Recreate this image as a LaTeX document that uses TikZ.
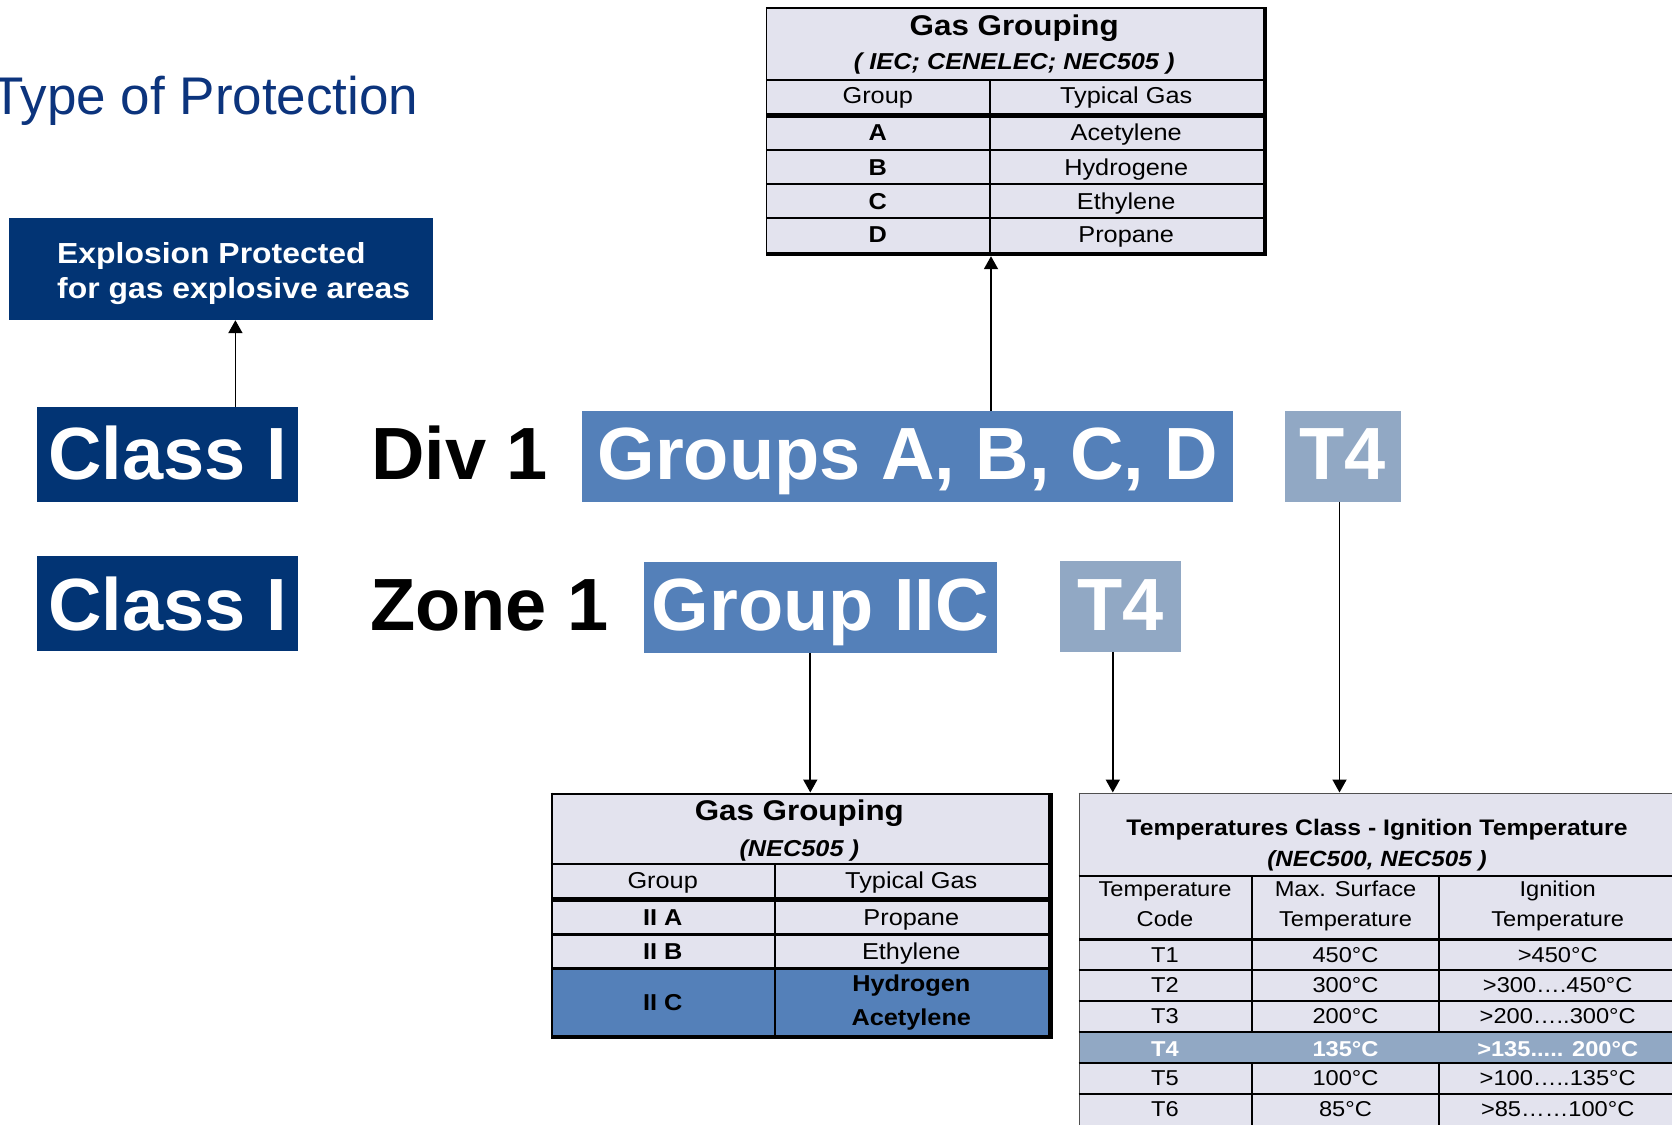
\documentclass[tikz,border=0pt]{standalone}
\usepackage{fontspec}
\setmainfont{Liberation Sans}
\newfontfamily\tabfont[FakeStretch=1.1]{Liberation Sans}
\usetikzlibrary{arrows.meta}
\definecolor{navy}{RGB}{2,52,116}
\definecolor{midblue}{RGB}{84,128,185}
\definecolor{greyblue}{RGB}{145,168,196}
\definecolor{lav}{RGB}{227,227,238}
\definecolor{titleblue}{RGB}{12,52,125}
\definecolor{edgegrey}{RGB}{80,80,80}
\begin{document}
\begin{tikzpicture}[x=1pt,y=-1pt,
  bigfont/.style={font=\fontsize{74}{80}\selectfont\bfseries},
  bigbox/.style={bigfont, text=white, inner sep=0pt, text depth=0pt, anchor=center},
  plain/.style={bigfont, anchor=base west, inner sep=0pt},
  arr/.style={draw=black, line width=1.8pt, -{Triangle[length=13pt,width=14pt]}},
  frame/.style={draw=none, inner sep=0pt},
  tx/.style={anchor=base, inner sep=0pt, font=\tabfont\fontsize{23}{27}\selectfont},
  txb/.style={tx, font=\tabfont\fontsize{23}{27}\selectfont\bfseries},
  ttl/.style={tx, font=\tabfont\fontsize{28.5}{32}\selectfont\bfseries},
  subt/.style={tx, font=\tabfont\fontsize{23}{27}\selectfont\bfseries\itshape},
  tt/.style={tx, font=\tabfont\fontsize{21.5}{25}\selectfont},
  ttb/.style={tx, font=\tabfont\fontsize{21.5}{25}\selectfont\bfseries},
  ttlb/.style={tx, font=\tabfont\fontsize{22.5}{26}\selectfont\bfseries},
  ttsub/.style={tx, font=\tabfont\fontsize{22}{26}\selectfont\bfseries\itshape},
  expt/.style={anchor=base west, inner sep=0pt, text=white, font=\tabfont\fontsize{29}{33}\selectfont\bfseries},
  rl/.style={line width=2pt},
  gl/.style={line width=1.5pt, draw=edgegrey}
]
\useasboundingbox (0,0) rectangle (1672,1124);
\clip (0,0) rectangle (1672,1124);

% ---------- title ----------
\node[anchor=base west, inner sep=0pt, text=titleblue, font=\fontsize{53}{60}\selectfont] (title) at (-9,114) {Type of Protection};

% ---------- explosion box ----------
\node[fill=navy, minimum width=424pt, minimum height=101.7pt, inner sep=0pt] (exp) at (220.9,269.15) {};
\node[expt] (exp1) at (57,263.3) {Explosion Protected};
\node[expt] (exp2) at (57,298.3) {for gas explosive areas};

% ---------- row 1 ----------
\node[bigbox, fill=navy, minimum width=261.4pt, minimum height=94.4pt, text height=49.6pt] (c1) at (167.7,454.5) {Class I};
\node[plain] (div) at (371,479.3) {Div 1};
\node[bigbox, fill=midblue, minimum width=651pt, minimum height=90.7pt, text height=45.9pt] (grp) at (907.9,456.35) {Groups A, B, C, D};
\node[bigbox, fill=greyblue, minimum width=115.6pt, minimum height=90.7pt, text height=45.9pt] (t4a) at (1342.8,456.35) {T4};

% ---------- row 2 ----------
\node[bigbox, fill=navy, minimum width=261.4pt, minimum height=94.7pt, text height=54.7pt] (c2) at (167.7,603.35) {Class I};
\node[plain] (zone) at (370,630.7) {Zone 1};
\node[bigbox, fill=midblue, minimum width=352.4pt, minimum height=90.7pt, text height=46.7pt] (gic) at (820.4,607.35) {Group IIC};
\node[bigbox, fill=greyblue, minimum width=120.7pt, minimum height=90.7pt, text height=48.7pt] (t4b) at (1120.35,606.35) {T4};

% ---------- top table: Gas Grouping (IEC) ----------
\node[frame, minimum width=501.2pt, minimum height=248.7pt] (gtab) at (1016.4,131.65) {};
\fill[lav] (765.8,7.3) rectangle (1262.6,251.7);
\draw[line width=2pt] (765.8,8.3) -- (1264,8.3);
\draw[line width=1.5pt] (766.5,7.3) -- (766.5,252);
\draw[rl] (765.8,80) -- (1262.6,80);
\fill[black] (765.8,113.3) rectangle (1262.6,117.7);
\draw[rl] (765.8,150) -- (1262.6,150);
\draw[rl] (765.8,184) -- (1262.6,184);
\draw[rl] (765.8,218.3) -- (1262.6,218.3);
\draw[rl] (989.7,80) -- (989.7,251.7);
\fill[black] (1262.6,7.3) rectangle (1267,256);
\fill[black] (765.8,251.7) rectangle (1267,256);
\node[ttl] (g1t) at (1014.2,36) {Gas Grouping};
\node[subt] (g1s) at (1014.2,69.3) {( IEC; CENELEC; NEC505 )};
\node[tx] (g1h1) at (877.75,103.3) {Group};
\node[tx] (g1h2) at (1126.2,103.3) {Typical Gas};
\node[txb] (g1a) at (877.75,140.7) {A};
\node[tx]  (g1a2) at (1126.2,140.7) {Acetylene};
\node[txb] (g1b) at (877.75,175) {B};
\node[tx]  (g1b2) at (1126.2,175) {Hydrogene};
\node[txb] (g1c) at (877.75,209) {C};
\node[tx]  (g1c2) at (1126.2,209) {Ethylene};
\node[txb] (g1d) at (877.75,242.7) {D};
\node[tx]  (g1d2) at (1126.2,242.7) {Propane};

% ---------- middle table: Gas Grouping (NEC505) ----------
\node[frame, minimum width=502.2pt, minimum height=246.6pt] (mtab) at (801.8,916) {};
\fill[lav] (550.7,792.7) rectangle (1047.9,1035);
\fill[midblue] (550.7,968.3) rectangle (1047.9,1035);
\draw[line width=2pt] (550.7,793.7) -- (1050,793.7);
\draw[line width=2pt] (551.7,792.7) -- (551.7,1036);
\draw[rl] (550.7,864.3) -- (1047.9,864.3);
\fill[black] (550.7,896.7) rectangle (1047.9,901.7);
\fill[black] (550.7,933.3) rectangle (1047.9,935.7);
\fill[black] (550.7,967.3) rectangle (1047.9,970);
\draw[rl] (774.6,864.3) -- (774.6,1035);
\fill[black] (1047.9,792.7) rectangle (1052.9,1039.3);
\fill[black] (550.7,1034.5) rectangle (1052.9,1039.3);
\node[ttl] (g2t) at (799.3,820) {Gas Grouping};
\node[subt] (g2s) at (799.3,856) {(NEC505 )};
\node[tx] (g2h1) at (662.7,888.3) {Group};
\node[tx] (g2h2) at (911.3,888.3) {Typical Gas};
\node[txb] (g2a) at (662.7,925.7) {II A};
\node[tx]  (g2a2) at (911.3,925.7) {Propane};
\node[txb] (g2b) at (662.7,959.3) {II B};
\node[tx]  (g2b2) at (911.3,959.3) {Ethylene};
\node[txb] (g2c) at (662.7,1010.7) {II C};
\node[txb] (g2c2) at (911.3,991.7) {Hydrogen};
\node[txb] (g2c3) at (911.3,1025) {Acetylene};

% ---------- temperature table ----------
\node[frame, minimum width=601.3pt, minimum height=337.3pt] (ttab) at (1379.35,961.35) {};
\fill[lav] (1078.7,792.7) rectangle (1680,1130);
\fill[greyblue] (1078.7,1032.3) rectangle (1680,1063.3);
\draw[gl] (1078.7,793.5) -- (1680,793.5);
\draw[gl] (1079.5,792.7) -- (1079.5,1130);
\draw[rl] (1078.7,876) -- (1680,876);
\fill[black] (1078.7,937.7) rectangle (1680,941);
\foreach \yy in {970,1001,1032.3,1063.3,1094} {\draw[rl] (1078.7,\yy) -- (1680,\yy);}
\foreach \xx in {1251.6,1439.4} {
  \draw[rl] (\xx,876) -- (\xx,1032.3);
  \draw[rl] (\xx,1063.3) -- (\xx,1130);
}
\node[ttlb] (tt1) at (1377,835) {Temperatures Class - Ignition Temperature};
\node[ttsub] (tt2) at (1377,866.7) {(NEC500, NEC505 )};
\node[tt] (th1a) at (1165,896.7) {Temperature};
\node[tt] (th1b) at (1165,926.7) {Code};
\node[tt] (th2a) at (1345.5,896.7) {Max. Surface};
\node[tt] (th2b) at (1345.5,926.7) {Temperature};
\node[tt] (th3a) at (1557.7,896.7) {Ignition};
\node[tt] (th3b) at (1557.7,926.7) {Temperature};
\node[tt] (r1a) at (1165,962.3) {T1};
\node[tt] (r1b) at (1345.5,962.3) {450°C};
\node[tt] (r1c) at (1557.7,962.3) {>450°C};
\node[tt] (r2a) at (1165,992.7) {T2};
\node[tt] (r2b) at (1345.5,992.7) {300°C};
\node[tt] (r2c) at (1557.7,992.7) {>300….450°C};
\node[tt] (r3a) at (1165,1023.3) {T3};
\node[tt] (r3b) at (1345.5,1023.3) {200°C};
\node[tt] (r3c) at (1557.7,1023.3) {>200…..300°C};
\node[ttb, text=white] (r4a) at (1165,1056) {T4};
\node[ttb, text=white] (r4b) at (1345.5,1056) {135°C};
\node[ttb, text=white] (r4c) at (1557.7,1056) {>135..... 200°C};
\node[tt] (r5a) at (1165,1085) {T5};
\node[tt] (r5b) at (1345.5,1085) {100°C};
\node[tt] (r5c) at (1557.7,1085) {>100…..135°C};
\node[tt] (r6a) at (1165,1116) {T6};
\node[tt] (r6b) at (1345.5,1116) {85°C};
\node[tt] (r6c) at (1557.7,1116) {>85……100°C};

% ---------- connectors ----------
\coordinate (ax1) at (235.4,0);
\coordinate (ax2) at (991,0);
\coordinate (ax3) at (810.3,0);
\coordinate (ax4) at (1112.8,0);
\coordinate (ax5) at (1339.5,0);
\draw[arr] (c1.north -| ax1) -- (exp.south -| ax1);
\draw[arr] (grp.north -| ax2) -- (gtab.south -| ax2);
\draw[arr] (gic.south -| ax3) -- (mtab.north -| ax3);
\draw[arr] (t4b.south -| ax4) -- (ttab.north -| ax4);
\draw[arr] (t4a.south -| ax5) -- (ttab.north -| ax5);
\end{tikzpicture}
\end{document}
